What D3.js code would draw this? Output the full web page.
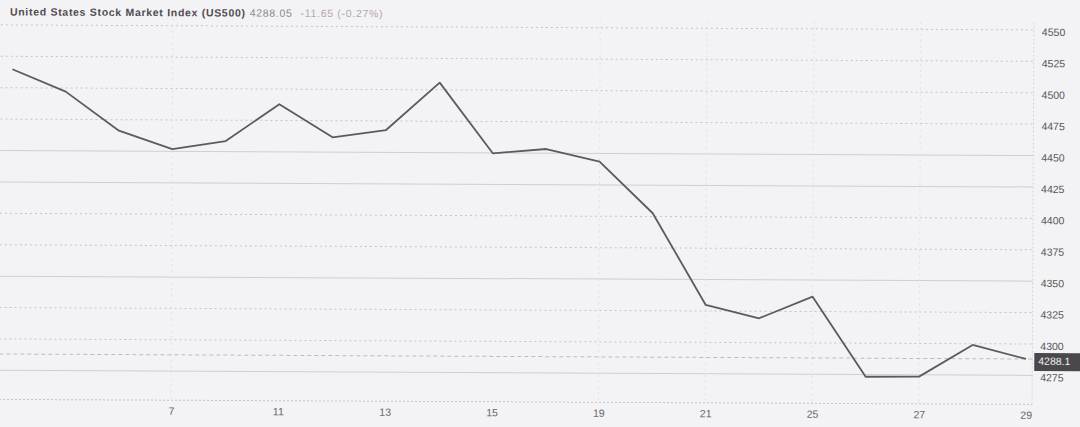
<!DOCTYPE html>
<html>
<head>
<meta charset="utf-8">
<script src="https://cdn.jsdelivr.net/npm/d3@7"></script>
<style>
  html, body { margin: 0; padding: 0; background: #f3f2f4; }
  svg { display: block; }
  text { font-family: "Liberation Sans", Arial, sans-serif; }
</style>
</head>
<body>
<svg id="chart" width="1080" height="427"></svg>
<script>
// ---- data ----
const dates = [1, 5, 6, 7, 8, 11, 12, 13, 14, 15, 18, 19, 20, 21, 22, 25, 26, 27, 28, 29];
const closes = [4514.7, 4497.1, 4466.2, 4451.7, 4458.4, 4487.9, 4461.8, 4467.8, 4505.7, 4449.7,
                4453.3, 4443.5, 4402.6, 4329.8, 4319.4, 4336.8, 4273.3, 4273.6, 4299.0, 4288.05];
const xTickLabels = [7, 11, 13, 15, 19, 21, 25, 27, 29];
const yTickValues = [4275, 4300, 4325, 4350, 4375, 4400, 4425, 4450, 4475, 4500, 4525, 4550];
const titleName = "United States Stock Market Index (US500)";
const titleLast = "4288.05";
const titleChange = "-11.65 (-0.27%)";
const lastLabel = "4288.1";

// ---- style config ----
const solidGrid = [4275, 4350, 4425, 4450];
const vGridDates = [7, 19, 21, 25, 27];

const svg = d3.select("#chart");
const g = svg.append("g").attr("transform", "rotate(0.28 540 213)");

const x = d3.scalePoint().domain(dates).range([11.7, 1026.7]);
const y = d3.scaleLinear().domain([4275, 4550]).range([373, 27.5]);
const axisX = 1033, baseY = 402;

// horizontal gridlines
g.append("g").selectAll("line").data(yTickValues).join("line")
  .attr("x1", 0).attr("x2", axisX)
  .attr("y1", d => y(d)).attr("y2", d => y(d))
  .attr("stroke", d => solidGrid.includes(d) ? "#d0ced3" : "#c6c4c9")
  .attr("stroke-width", 1)
  .attr("stroke-dasharray", d => solidGrid.includes(d) ? null : "2,3");

// vertical gridlines (very faint)
g.append("g").selectAll("line").data(vGridDates).join("line")
  .attr("x1", d => x(d)).attr("x2", d => x(d))
  .attr("y1", 20).attr("y2", baseY)
  .attr("stroke", "#e2e0e5").attr("stroke-dasharray", "2,4");

// baseline (x axis) and right axis line
g.append("line").attr("x1", 0).attr("x2", axisX).attr("y1", baseY).attr("y2", baseY)
  .attr("stroke", "#c4c2c7").attr("stroke-dasharray", "2,2");
g.append("line").attr("x1", axisX).attr("x2", axisX).attr("y1", 20).attr("y2", baseY)
  .attr("stroke", "#d6d4d9").attr("stroke-dasharray", "2,2");

// last price line
g.append("line").attr("x1", 0).attr("x2", axisX)
  .attr("y1", y(closes[closes.length - 1])).attr("y2", y(closes[closes.length - 1]))
  .attr("stroke", "#bdbbc0").attr("stroke-dasharray", "4,3");

// y axis labels (right)
const yAxis = d3.axisRight(y).tickValues(yTickValues).tickSize(0).tickPadding(0)
  .tickFormat(d3.format("d"));
const ya = g.append("g").attr("transform", `translate(${axisX + 8},2)`).call(yAxis);
ya.select(".domain").remove();
ya.selectAll("text").attr("fill", "#58565b").attr("font-size", 10.5);

// x axis labels
const xAxis = d3.axisBottom(x).tickValues(xTickLabels).tickSize(0).tickPadding(0);
const xa = g.append("g").attr("transform", `translate(0,${baseY + 7})`).call(xAxis);
xa.select(".domain").remove();
xa.selectAll("text").attr("fill", "#68666b").attr("font-size", 10.5);

// price line
const line = d3.line().x((d, i) => x(dates[i])).y(d => y(d));
g.append("path").datum(closes).attr("d", line)
  .attr("fill", "none").attr("stroke", "#5c5a5f").attr("stroke-width", 1.8)
  .attr("stroke-linejoin", "round");

// last price box
const ly = y(closes[closes.length - 1]);
g.append("rect").attr("x", axisX + 2).attr("y", ly - 6).attr("width", 60).attr("height", 18)
  .attr("fill", "#4a484d");
g.append("text").attr("x", axisX + 6).attr("y", ly + 3).attr("dominant-baseline", "middle")
  .attr("fill", "#f0f0f0").attr("font-size", 10.5).text(lastLabel);

// title
const t = g.append("text").attr("x", 9).attr("y", 18).attr("font-size", 10.5)
  .attr("letter-spacing", 0.7);
t.append("tspan").attr("fill", "#4e4c52").attr("font-weight", "bold").text(titleName);
t.append("tspan").attr("dx", 4).attr("fill", "#8a888d").text(titleLast);
t.append("tspan").attr("dx", 8).attr("fill", "#b4a8ac").text(titleChange);
</script>
</body>
</html>
